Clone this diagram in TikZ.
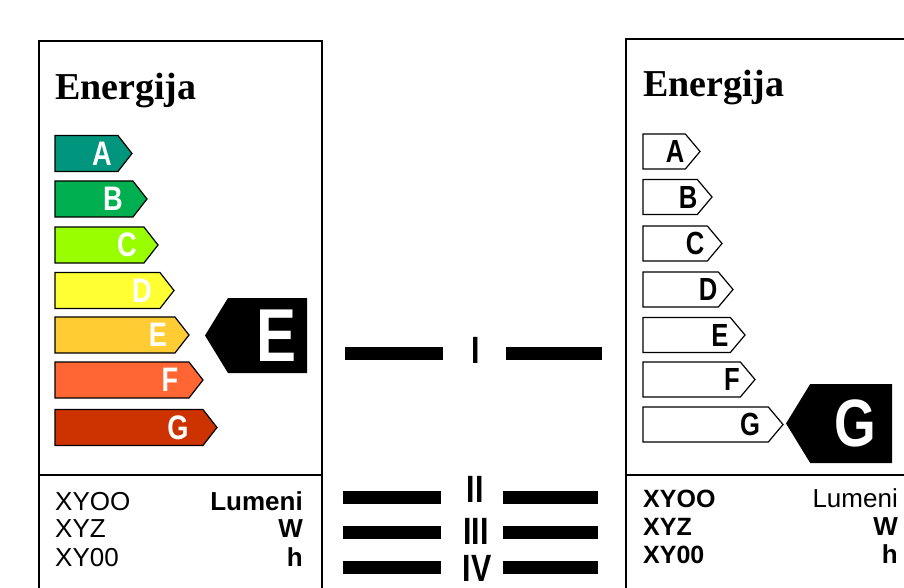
\documentclass[tikz,border=0pt]{standalone}
\usepackage{fontspec}
\setmainfont{Liberation Serif}
\setsansfont{Liberation Sans}
\newfontfamily\narrowsf[FakeStretch=0.8]{Liberation Sans}
\usetikzlibrary{shapes.symbols,positioning}

\definecolor{clA}{RGB}{0,150,125}
\definecolor{clB}{RGB}{0,176,80}
\definecolor{clC}{RGB}{153,255,0}
\definecolor{clD}{RGB}{255,255,51}
\definecolor{clE}{RGB}{255,204,51}
\definecolor{clF}{RGB}{255,102,51}
\definecolor{clG}{RGB}{204,51,0}

\begin{document}
\begin{tikzpicture}[x=1pt,y=-1pt,
		frame/.style={line width=1.5pt},
		lbar/.style={signal,signal to=east,signal pointer angle=104,draw,line width=1.2pt,minimum height=36pt,inner sep=0pt,outer sep=0pt,anchor=west},
		rbar/.style={signal,signal to=east,signal pointer angle=100,draw,line width=1.2pt,fill=white,minimum height=35pt,inner sep=0pt,outer sep=0pt,anchor=west},
		lletter/.style={text=white,font=\narrowsf\bfseries\fontsize{34}{34}\selectfont,inner sep=0pt},
		rletter/.style={text=black,font=\narrowsf\bfseries\fontsize{32}{32}\selectfont,inner sep=0pt},
		marker/.style={signal,signal to=west,signal pointer angle=117,fill=black,inner sep=0pt,outer sep=0pt,anchor=east},
		bigletter/.style={text=white,inner sep=0pt},
		title/.style={font=\bfseries\fontsize{38}{38}\selectfont,anchor=base west,inner sep=0pt},
		info/.style={font=\sffamily\fontsize{26}{26}\selectfont,inner sep=0pt},
		roman/.style={font=\narrowsf\bfseries\fontsize{38}{38}\selectfont,inner sep=0pt},
		midbar/.style={line width=13pt}]
		\useasboundingbox (0,0) rectangle (904,588);
		
		% okviri
		\draw[frame] (39,588) -- (39,41) -- (322,41) -- (322,588);
		\draw[frame] (39,475) -- (322,475);
		\draw[frame] (626,588) -- (626,39) -- (904,39);
		\draw[frame] (626,475) -- (904,475);
		
		\node[title] (tL) at (55,100) {Energija};
		\node[title] (tR) at (643,97) {Energija};
		
		% lijeva naljepnica
		\node[lbar, fill=clA, minimum width=77pt] (lA) at (55,153.5) {};
		\node[lbar, fill=clB, minimum width=92pt] (lB) at (55,199) {};
		\node[lbar, fill=clC, minimum width=103pt] (lC) at (55,245) {};
		\node[lbar, fill=clD, minimum width=119pt] (lD) at (55,290.5) {};
		\node[lbar, fill=clE, minimum width=134pt] (lE) at (55,335) {};
		\node[lbar, fill=clF, minimum width=148pt] (lF) at (55,380) {};
		\node[lbar, fill=clG, minimum width=162pt] (lG) at (55,427.5) {};
		\node[lletter] at ([xshift=-30pt]lA.east) {A};
		\node[lletter] at ([xshift=-34pt]lB.east) {B};
		\node[lletter] at ([xshift=-31pt]lC.east) {C};
		\node[lletter] at ([xshift=-32pt]lD.east) {D};
		\node[lletter] at ([xshift=-31pt]lE.east) {E};
		\node[lletter] at ([xshift=-33pt]lF.east) {F};
		\node[lletter] at ([xshift=-39pt]lG.east) {G};
		
		\node[marker, minimum width=102pt, minimum height=75pt] (mE) at (307,335.5) {};
		\node[bigletter, font=\narrowsf\bfseries\fontsize{75}{75}\selectfont] (bE) at ([xshift=-30.5pt]mE.east) {E};
		
		% desna naljepnica
		\node[rbar, minimum width=57pt] (rA) at (643,151.5) {};
		\node[rbar, minimum width=69pt] (rB) at (643,197) {};
		\node[rbar, minimum width=79pt] (rC) at (643,243.5) {};
		\node[rbar, minimum width=90pt] (rD) at (643,289.5) {};
		\node[rbar, minimum width=102pt] (rE) at (643,335) {};
		\node[rbar, minimum width=112pt] (rF) at (643,379.5) {};
		\node[rbar, minimum width=140pt] (rG) at (643,424.5) {};
		\node[rletter] at ([xshift=-25pt]rA.east) {A};
		\node[rletter] at ([xshift=-24pt]rB.east) {B};
		\node[rletter] at ([xshift=-27pt]rC.east) {C};
		\node[rletter] at ([xshift=-25pt]rD.east) {D};
		\node[rletter] at ([xshift=-25pt]rE.east) {E};
		\node[rletter] at ([xshift=-23pt]rF.east) {F};
		\node[rletter] at ([xshift=-33pt]rG.east) {G};
		
		\node[marker, minimum width=106pt, minimum height=79pt] (mG) at (892,423.5) {};
		\node[bigletter, font=\narrowsf\bfseries\fontsize{67}{67}\selectfont] (bG) at ([xshift=-36.5pt]mG.east) {G};
		
		% podaci
		\node[info, anchor=base west] (xL1) at (55,510) {XYOO};
		\node[info, anchor=base west] (xL2) at (55,537) {XYZ};
		\node[info, anchor=base west] (xL3) at (55,566) {XY00};
		\node[info, anchor=base east, font=\sffamily\bfseries\fontsize{26}{26}\selectfont] (uL1) at (303,510) {Lumeni};
		\node[info, anchor=base east, font=\sffamily\bfseries\fontsize{26}{26}\selectfont] (uL2) at (303,537) {W};
		\node[info, anchor=base east, font=\sffamily\bfseries\fontsize{26}{26}\selectfont] (uL3) at (303,566) {h};
		
		\node[info, anchor=base west, font=\sffamily\bfseries\fontsize{25}{25}\selectfont] (xR1) at (643,507) {XYOO};
		\node[info, anchor=base west, font=\sffamily\bfseries\fontsize{25}{25}\selectfont] (xR2) at (643,535) {XYZ};
		\node[info, anchor=base west, font=\sffamily\bfseries\fontsize{25}{25}\selectfont] (xR3) at (643,563) {XY00};
		\node[info, anchor=base east] (uR1) at (898,507) {Lumeni};
		\node[info, anchor=base east, font=\sffamily\bfseries\fontsize{26}{26}\selectfont] (uR2) at (898,535) {W};
		\node[info, anchor=base east, font=\sffamily\bfseries\fontsize{26}{26}\selectfont] (uR3) at (898,563) {h};
		
		% razredi
		\coordinate (mI) at (476,353);
		\coordinate (mII) at (475,497);
		\coordinate (mIII) at (476,532.5);
		\coordinate (mIV) at (477,567.5);
		\node[roman] (nI) at ([yshift=3pt]mI) {I};
		\node[roman] (nII) at ([yshift=8pt]mII) {II};
		\node[roman] (nIII) at ([yshift=1pt]mIII) {III};
		\node[roman] (nIV) at ([yshift=-1pt]mIV) {IV};
		\draw[midbar] ([xshift=-131pt]mI) -- ([xshift=-33pt]mI);
		\draw[midbar] ([xshift=30pt]mI) -- ([xshift=126pt]mI);
		\draw[midbar] ([xshift=-132pt]mII) -- ([xshift=-34pt]mII);
		\draw[midbar] ([xshift=28pt]mII) -- ([xshift=123pt]mII);
		\draw[midbar] ([xshift=-133pt]mIII) -- ([xshift=-35pt]mIII);
		\draw[midbar] ([xshift=27pt]mIII) -- ([xshift=122pt]mIII);
		\draw[midbar] ([xshift=-134pt]mIV) -- ([xshift=-36pt]mIV);
		\draw[midbar] ([xshift=26pt]mIV) -- ([xshift=121pt]mIV);
		
\end{tikzpicture}
\end{document}
